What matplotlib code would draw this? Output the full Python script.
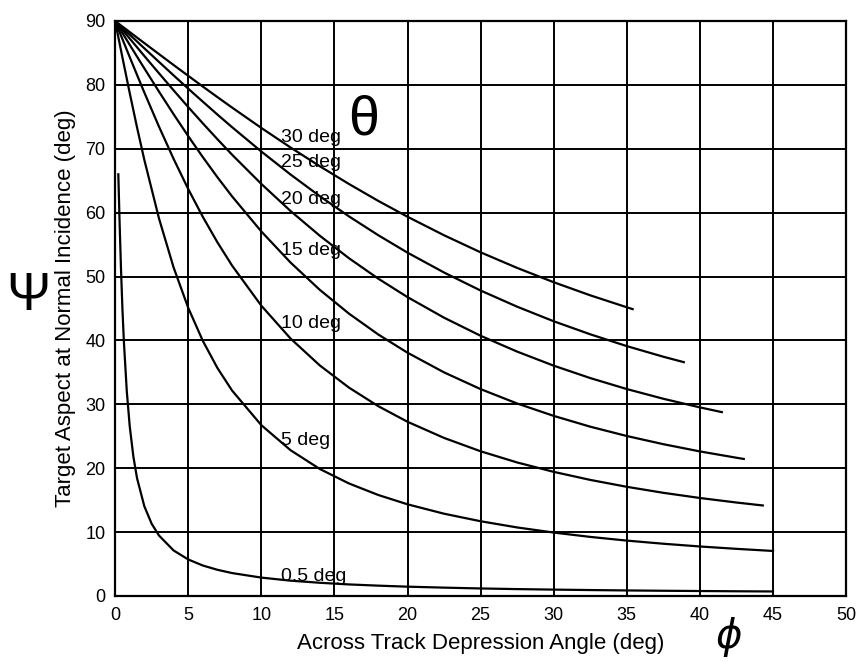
import matplotlib
matplotlib.use("Agg")
import matplotlib.pyplot as plt

plt.rcParams["font.family"] = ["Liberation Sans", "DejaVu Sans"]

# depression angle (deg) and aspect (deg) for each grazing angle curve
phi_30 = [0, 0.5, 1, 1.5, 2, 3, 4, 5, 6, 7, 8, 10, 12, 14, 16, 18, 20, 22.5, 25, 27.5, 30, 32.5, 35, 35.4]
psi_30 = [90, 89.13, 88.27, 87.40, 86.54, 84.82, 83.11, 81.42, 79.74, 78.08, 76.45, 73.26, 70.20, 67.27,
          64.48, 61.84, 59.36, 56.46, 53.79, 51.35, 49.11, 47.06, 45.19, 44.9]

phi_25 = [0, 0.5, 1, 1.5, 2, 3, 4, 5, 6, 7, 8, 10, 12, 14, 16, 18, 20, 22.5, 25, 27.5, 30, 32.5, 35, 37.5, 38.9]
psi_25 = [90, 88.93, 87.86, 86.79, 85.72, 83.60, 81.49, 79.41, 77.37, 75.35, 73.38, 69.57, 65.97, 62.58,
          59.41, 56.47, 53.74, 50.63, 47.81, 45.28, 43.00, 40.96, 39.11, 37.45, 36.60]

phi_20 = [0, 0.5, 1, 1.5, 2, 3, 4, 5, 6, 7, 8, 10, 12, 14, 16, 18, 20, 22.5, 25, 27.5, 30, 32.5, 35, 37.5, 40, 41.5]
psi_20 = [90, 88.63, 87.25, 85.89, 84.52, 81.82, 79.15, 76.53, 73.98, 71.49, 69.07, 64.50, 60.26, 56.39,
          52.86, 49.67, 46.78, 43.56, 40.73, 38.25, 36.05, 34.11, 32.39, 30.87, 29.52, 28.78]

phi_15 = [0, 0.5, 1, 1.5, 2, 3, 4, 5, 6, 7, 8, 10, 12, 14, 16, 18, 20, 22.5, 25, 27.5, 30, 32.5, 35, 37.5, 40, 42.5, 43]
psi_15 = [90, 88.13, 86.27, 84.42, 82.58, 78.95, 75.41, 71.98, 68.69, 65.54, 62.55, 57.06, 52.19, 47.92,
          44.19, 40.93, 38.08, 35.00, 32.38, 30.13, 28.19, 26.50, 25.04, 23.76, 22.63, 21.64, 21.45]

phi_10 = [0, 0.5, 1, 1.5, 2, 3, 4, 5, 6, 7, 8, 10, 12, 14, 16, 18, 20, 22.5, 25, 27.5, 30, 32.5, 35, 37.5, 40, 42.5, 44.3]
psi_10 = [90, 87.17, 84.35, 81.56, 78.80, 73.47, 68.42, 63.70, 59.34, 55.35, 51.72, 45.44, 40.30, 36.09,
          32.61, 29.71, 27.27, 24.74, 22.65, 20.90, 19.43, 18.17, 17.09, 16.15, 15.34, 14.63, 14.17]

phi_5 = [0, 0.25, 0.5, 1, 1.5, 2, 3, 4, 5, 6, 7, 8, 10, 12, 14, 16, 18, 20, 22.5, 25, 27.5, 30, 32.5, 35, 37.5, 40, 42.5, 45]
psi_5 = [90, 87.14, 84.30, 78.72, 73.34, 68.25, 59.11, 51.43, 45.11, 39.93, 35.68, 32.16, 26.74, 22.82,
         19.88, 17.61, 15.81, 14.35, 12.88, 11.70, 10.73, 9.93, 9.25, 8.67, 8.18, 7.75, 7.38, 7.05]

phi_05 = [0.22, 0.3, 0.4, 0.5, 0.6, 0.8, 1, 1.25, 1.5, 2, 2.5, 3, 4, 5, 6, 7, 8, 10, 12, 14, 16, 18, 20,
          22.5, 25, 27.5, 30, 32.5, 35, 37.5, 40, 42.5, 45]
psi_05 = [66.0, 59.04, 51.34, 45.0, 39.81, 32.01, 26.57, 21.81, 18.44, 14.04, 11.31, 9.47, 7.13, 5.72,
          4.77, 4.10, 3.59, 2.88, 2.40, 2.07, 1.81, 1.62, 1.46, 1.31, 1.18, 1.08, 1.00, 0.93, 0.87,
          0.82, 0.78, 0.74, 0.71]

curve_labels = ["30 deg", "25 deg", "20 deg", "15 deg", "10 deg", "5 deg", "0.5 deg"]
label_y = [71.7, 67.8, 62.1, 54.1, 42.7, 24.4, 3.0]
label_x = 11.35

x_ticks = [0, 5, 10, 15, 20, 25, 30, 35, 40, 45, 50]
y_ticks = [0, 10, 20, 30, 40, 50, 60, 70, 80, 90]


def draw_aspect_chart():
    fig = plt.figure(figsize=(8.59, 6.62), dpi=100)
    ax = fig.add_axes([0.134, 0.0997, 0.851, 0.8686])

    curves = [(phi_30, psi_30), (phi_25, psi_25), (phi_20, psi_20), (phi_15, psi_15),
              (phi_10, psi_10), (phi_5, psi_5), (phi_05, psi_05)]
    for xs, ys in curves:
        ax.plot(xs, ys, color="black", lw=1.6, solid_joinstyle="round")

    for txt, yy in zip(curve_labels, label_y):
        ax.text(label_x, yy, txt, fontsize=14, ha="left", va="center")

    # grazing angle symbol
    ax.text(17.0, 74.5, "\u03b8", fontsize=40, ha="center", va="center")

    ax.set_xlim(0, 50)
    ax.set_ylim(0, 90)
    ax.set_xticks(x_ticks)
    ax.set_yticks(y_ticks)
    ax.tick_params(length=0, labelsize=13)
    ax.tick_params(axis="x", pad=8)
    ax.tick_params(axis="y", pad=7)
    ax.grid(True, color="black", lw=1.4)
    for sp in ax.spines.values():
        sp.set_linewidth(1.6)

    ax.set_xlabel("Across Track Depression Angle (deg)", fontsize=16, va="center")
    ax.xaxis.set_label_coords(0.5, -0.082)
    ax.set_ylabel("Target Aspect at Normal Incidence (deg)", fontsize=16, va="center")
    ax.yaxis.set_label_coords(-0.068, 0.5)

    # axis symbols
    fig.text(28 / 859, 1 - 296 / 662, "\u03a8", fontsize=38, ha="center", va="center")
    fig.text(729 / 859, 1 - 637 / 662, "\u03d5", fontsize=29, ha="center", va="center",
             style="italic", family=["DejaVu Sans"])

    fig.savefig("out.png", dpi=100)
    plt.close(fig)


if __name__ == "__main__":
    draw_aspect_chart()
